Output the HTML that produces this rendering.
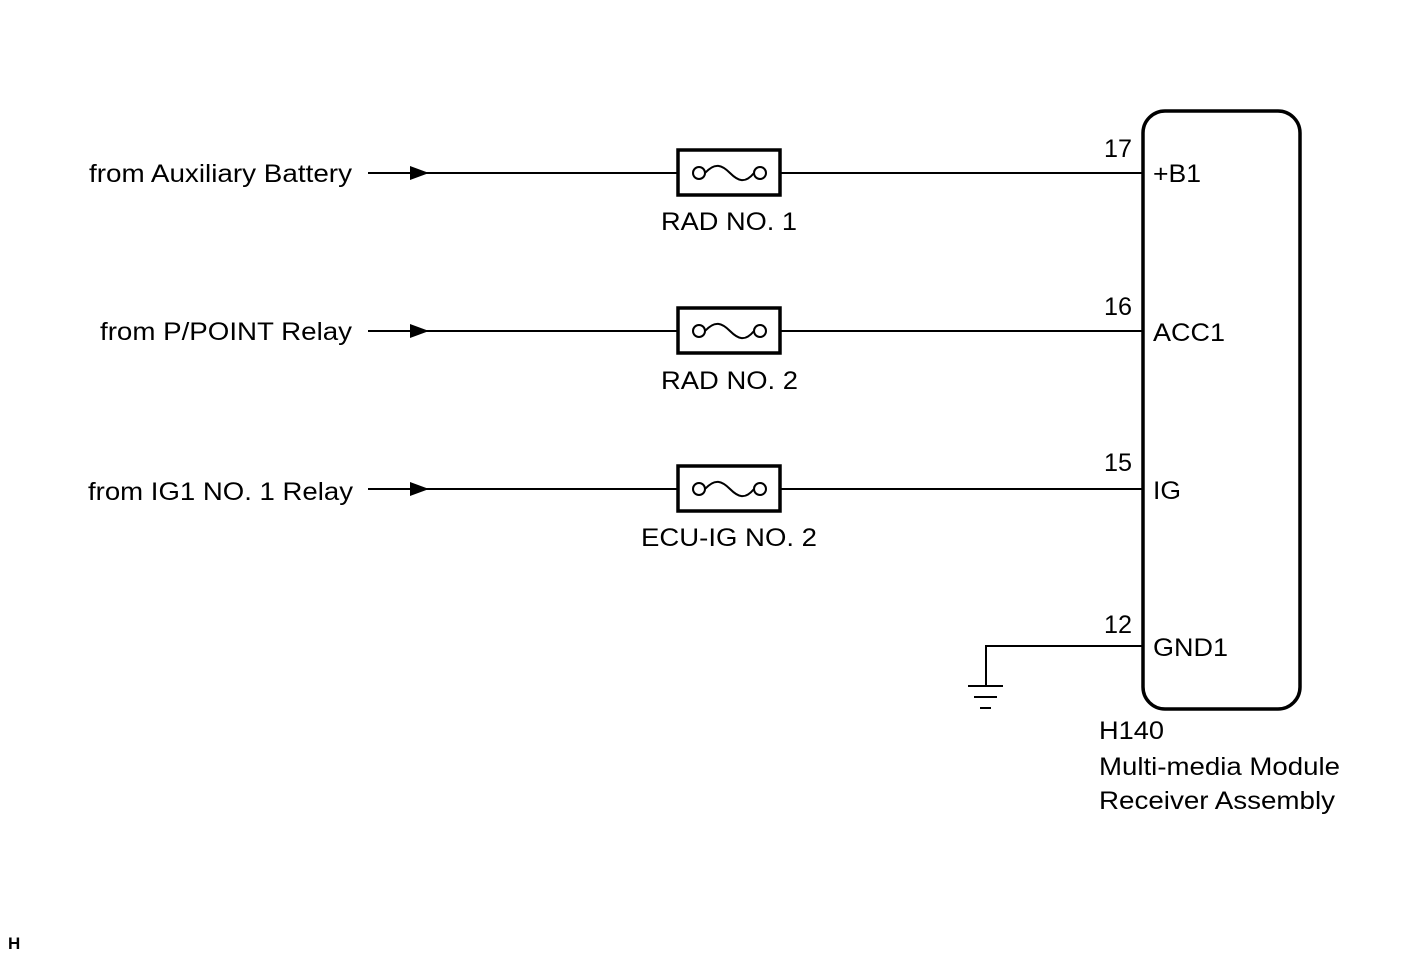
<!DOCTYPE html>
<html><head><style>body{margin:0;background:#fff}svg{display:block}text{font-family:"Liberation Sans",Arial,sans-serif;font-size:25px;fill:#000}</style></head><body>
<svg width="1424" height="959" viewBox="0 0 1424 959">
<rect width="1424" height="959" fill="#fff"/>
<g stroke="#000" stroke-width="2" fill="none">
<line x1="368" y1="173" x2="1143" y2="173"/>
<line x1="368" y1="331" x2="1143" y2="331"/>
<line x1="368" y1="489" x2="1143" y2="489"/>
<polyline points="1143,646 986,646 986,686"/>
<line x1="968" y1="686" x2="1003" y2="686"/>
<line x1="974" y1="697" x2="997" y2="697"/>
<line x1="980" y1="708" x2="991" y2="708"/>
</g>
<g fill="#000">
<polygon points="410,166 429,173 410,180"/>
<polygon points="410,324 429,331 410,338"/>
<polygon points="410,482 429,489 410,496"/>
</g>
<g id="f">
<rect x="678" y="150" width="102" height="45" fill="#fff" stroke="#000" stroke-width="3.5"/>
<circle cx="699" cy="173" r="6" fill="#fff" stroke="#000" stroke-width="2"/>
<circle cx="760" cy="173" r="6" fill="#fff" stroke="#000" stroke-width="2"/>
<path d="M705,173 C715,162 722,165 730,173 C738,181 745,184 754,173" fill="none" stroke="#000" stroke-width="2"/>
</g>
<use href="#f" y="158"/>
<use href="#f" y="316"/>
<rect x="1143" y="111" width="157" height="598" rx="22" fill="none" stroke="#000" stroke-width="3.5"/>
<g lengthAdjust="spacingAndGlyphs">
<text x="89" y="182" textLength="263" lengthAdjust="spacingAndGlyphs">from Auxiliary Battery</text>
<text x="100" y="340" textLength="252" lengthAdjust="spacingAndGlyphs">from P/POINT Relay</text>
<text x="88" y="500" textLength="265" lengthAdjust="spacingAndGlyphs">from IG1 NO. 1 Relay</text>
<text x="661" y="230" textLength="136" lengthAdjust="spacingAndGlyphs">RAD NO. 1</text>
<text x="661" y="389" textLength="137" lengthAdjust="spacingAndGlyphs">RAD NO. 2</text>
<text x="641" y="546" textLength="176" lengthAdjust="spacingAndGlyphs">ECU-IG NO. 2</text>
<text x="1104" y="157" textLength="28" lengthAdjust="spacingAndGlyphs">17</text>
<text x="1104" y="315" textLength="28" lengthAdjust="spacingAndGlyphs">16</text>
<text x="1104" y="471" textLength="28" lengthAdjust="spacingAndGlyphs">15</text>
<text x="1104" y="633" textLength="28" lengthAdjust="spacingAndGlyphs">12</text>
<text x="1153" y="182" textLength="48" lengthAdjust="spacingAndGlyphs">+B1</text>
<text x="1153" y="341" textLength="72" lengthAdjust="spacingAndGlyphs">ACC1</text>
<text x="1153" y="499" textLength="28" lengthAdjust="spacingAndGlyphs">IG</text>
<text x="1153" y="656" textLength="75" lengthAdjust="spacingAndGlyphs">GND1</text>
<text x="1099" y="739" textLength="65" lengthAdjust="spacingAndGlyphs">H140</text>
<text x="1099" y="775" textLength="241" lengthAdjust="spacingAndGlyphs">Multi-media Module</text>
<text x="1099" y="809" textLength="236" lengthAdjust="spacingAndGlyphs">Receiver Assembly</text>
</g>
<text x="8" y="949" style="font-size:17px;font-weight:bold">H</text>
</svg>
</body></html>
